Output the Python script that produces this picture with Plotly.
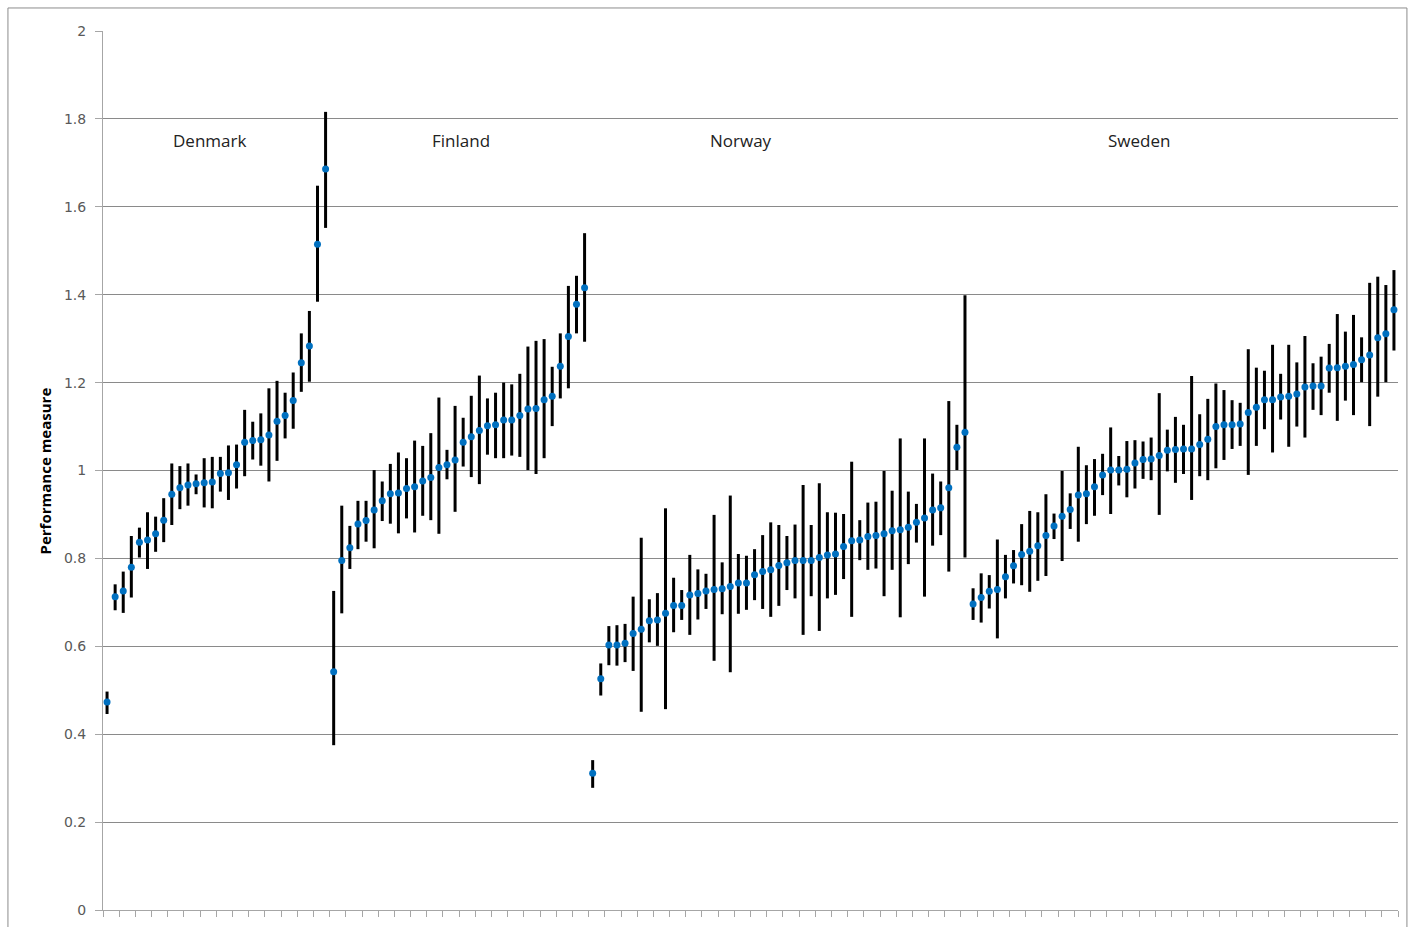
import plotly.graph_objects as go

countries = ["Denmark", "Finland", "Norway", "Sweden"]

denmark_value = [0.473, 0.713, 0.726, 0.780, 0.837, 0.842, 0.856, 0.887, 0.946, 0.961, 0.967, 0.970, 0.972, 0.974,
                 0.993, 0.995, 1.013, 1.064, 1.068, 1.070, 1.081, 1.112, 1.125, 1.159, 1.245, 1.283, 1.515, 1.686]
denmark_low = [0.446, 0.682, 0.676, 0.711, 0.802, 0.776, 0.815, 0.837, 0.876, 0.912, 0.920, 0.946, 0.916, 0.914,
               0.952, 0.933, 0.959, 0.987, 1.025, 1.011, 0.975, 1.022, 1.073, 1.095, 1.179, 1.202, 1.384, 1.552]
denmark_high = [0.497, 0.741, 0.770, 0.851, 0.870, 0.905, 0.895, 0.937, 1.016, 1.010, 1.016, 0.991, 1.028, 1.031,
                1.031, 1.057, 1.059, 1.138, 1.111, 1.130, 1.187, 1.204, 1.177, 1.223, 1.312, 1.363, 1.648, 1.816]

finland_value = [0.542, 0.795, 0.824, 0.878, 0.886, 0.910, 0.931, 0.947, 0.949, 0.959, 0.963, 0.976, 0.984, 1.007,
                 1.013, 1.024, 1.064, 1.077, 1.091, 1.102, 1.104, 1.115, 1.115, 1.125, 1.140, 1.141, 1.161, 1.169,
                 1.237, 1.305, 1.378, 1.416]
finland_low = [0.375, 0.675, 0.776, 0.821, 0.838, 0.823, 0.885, 0.879, 0.857, 0.891, 0.859, 0.897, 0.887, 0.856,
               0.980, 0.906, 1.009, 0.985, 0.969, 1.036, 1.028, 1.028, 1.034, 1.031, 1.001, 0.992, 1.028, 1.101,
               1.164, 1.187, 1.312, 1.293]
finland_high = [0.726, 0.920, 0.874, 0.931, 0.931, 1.001, 0.975, 1.015, 1.041, 1.028, 1.068, 1.056, 1.085, 1.166,
                1.047, 1.147, 1.120, 1.170, 1.216, 1.164, 1.177, 1.200, 1.196, 1.220, 1.282, 1.295, 1.299, 1.236,
                1.312, 1.420, 1.443, 1.540]

norway_value = [0.311, 0.526, 0.603, 0.603, 0.607, 0.629, 0.639, 0.658, 0.660, 0.675, 0.693, 0.693, 0.717, 0.720,
                0.726, 0.729, 0.731, 0.736, 0.744, 0.744, 0.763, 0.770, 0.774, 0.784, 0.790, 0.795, 0.795, 0.795,
                0.802, 0.808, 0.810, 0.827, 0.840, 0.842, 0.850, 0.852, 0.856, 0.863, 0.865, 0.871, 0.882, 0.892,
                0.910, 0.915, 0.961, 1.053, 1.087]
norway_low = [0.278, 0.488, 0.557, 0.556, 0.564, 0.544, 0.451, 0.609, 0.601, 0.457, 0.632, 0.660, 0.626, 0.661,
              0.685, 0.567, 0.673, 0.541, 0.674, 0.683, 0.705, 0.685, 0.667, 0.692, 0.728, 0.709, 0.626, 0.714,
              0.635, 0.709, 0.717, 0.753, 0.667, 0.796, 0.774, 0.777, 0.714, 0.774, 0.666, 0.787, 0.836, 0.713,
              0.829, 0.853, 0.770, 1.001, 0.802]
norway_high = [0.341, 0.561, 0.646, 0.648, 0.651, 0.713, 0.847, 0.707, 0.721, 0.914, 0.756, 0.728, 0.808, 0.775,
               0.765, 0.899, 0.791, 0.943, 0.810, 0.806, 0.821, 0.853, 0.882, 0.876, 0.851, 0.877, 0.967, 0.876,
               0.971, 0.905, 0.904, 0.901, 1.020, 0.887, 0.927, 0.929, 0.999, 0.954, 1.073, 0.952, 0.924, 1.073,
               0.993, 0.975, 1.158, 1.104, 1.399]

sweden_value = [0.696, 0.711, 0.725, 0.729, 0.758, 0.783, 0.809, 0.816, 0.829, 0.852, 0.874, 0.896, 0.911, 0.944,
                0.947, 0.963, 0.990, 1.001, 1.001, 1.003, 1.017, 1.025, 1.026, 1.034, 1.046, 1.048, 1.049, 1.049,
                1.059, 1.071, 1.100, 1.104, 1.104, 1.106, 1.132, 1.144, 1.161, 1.161, 1.167, 1.169, 1.174, 1.190,
                1.192, 1.192, 1.233, 1.234, 1.237, 1.241, 1.252, 1.263, 1.302, 1.311, 1.366]
sweden_low = [0.660, 0.654, 0.686, 0.618, 0.709, 0.743, 0.739, 0.724, 0.749, 0.760, 0.844, 0.794, 0.867, 0.838,
              0.878, 0.897, 0.944, 0.901, 0.966, 0.939, 0.959, 0.981, 0.978, 0.899, 0.998, 0.972, 0.992, 0.933,
              0.987, 0.978, 1.005, 1.024, 1.049, 1.056, 0.990, 1.056, 1.094, 1.041, 1.116, 1.054, 1.100, 1.075,
              1.138, 1.126, 1.177, 1.113, 1.159, 1.126, 1.201, 1.101, 1.168, 1.201, 1.273]
sweden_high = [0.732, 0.766, 0.762, 0.843, 0.808, 0.819, 0.878, 0.908, 0.905, 0.946, 0.902, 0.999, 0.948, 1.054,
               1.012, 1.026, 1.038, 1.098, 1.033, 1.067, 1.069, 1.066, 1.075, 1.176, 1.093, 1.122, 1.104, 1.215,
               1.128, 1.163, 1.198, 1.183, 1.160, 1.154, 1.276, 1.234, 1.227, 1.286, 1.220, 1.286, 1.246, 1.306,
               1.244, 1.259, 1.288, 1.356, 1.316, 1.354, 1.303, 1.427, 1.441, 1.422, 1.456]

y_ticks = [0, 0.2, 0.4, 0.6, 0.8, 1, 1.2, 1.4, 1.6, 1.8, 2]
y_ticktext = ["0", "0.2", "0.4", "0.6", "0.8", "1", "1.2", "1.4", "1.6", "1.8", "2"]
label_x = [0.0826, 0.2764, 0.4927, 0.800]
label_y = 1.75

series = [
    (denmark_value, denmark_low, denmark_high),
    (finland_value, finland_low, finland_high),
    (norway_value, norway_low, norway_high),
    (sweden_value, sweden_low, sweden_high),
]

fig = go.Figure()
n_total = 0
for name, (vals, lows, highs) in zip(countries, series):
    cats = [f"{name} {i + 1}" for i in range(len(vals))]
    n_total += len(cats)
    fig.add_trace(go.Scatter(
        x=cats, y=vals, mode="markers", name=name, showlegend=False,
        marker=dict(color="#0070C0", size=7, line=dict(width=0)),
        error_y=dict(type="data", symmetric=False,
                     array=[h - v for h, v in zip(highs, vals)],
                     arrayminus=[v - l for v, l in zip(vals, lows)],
                     color="black", thickness=3, width=0),
    ))

for name, lx in zip(countries, label_x):
    fig.add_annotation(x=lx, xref="paper", y=label_y, yref="y", text=name, showarrow=False,
                       font=dict(family="Open Sans", size=17, color="#222222"),
                       xanchor="center", yanchor="middle")

fig.add_annotation(x=-0.0448, xref="paper", y=0.5, yref="paper", text="<b>Performance measure</b>",
                   textangle=-90, showarrow=False,
                   font=dict(family="Open Sans", size=15, color="black"),
                   xanchor="center", yanchor="middle")

fig.add_shape(type="rect", xref="paper", yref="paper", x0=-0.0734, x1=1.0069, y0=-0.03, y1=1.0262,
              line=dict(color="#8c8c8c", width=1), fillcolor="rgba(0,0,0,0)", layer="below")

fig.update_layout(
    width=1408, height=927,
    margin=dict(l=103, r=10, t=31, b=17),
    paper_bgcolor="white", plot_bgcolor="white",
    font=dict(family="Open Sans", size=14, color="#595959"),
    xaxis=dict(type="category", range=[-0.5, n_total - 0.5], tickson="boundaries", ticks="outside", ticklen=6,
               tickcolor="#a6a6a6", showticklabels=False, showgrid=False, showline=True,
               linecolor="#a6a6a6", linewidth=1, zeroline=False),
    yaxis=dict(range=[0, 2], tickvals=y_ticks, ticktext=y_ticktext, ticks="outside", ticklen=7,
               tickcolor="#a6a6a6", showline=True, linecolor="#a6a6a6", linewidth=1,
               showgrid=True, gridcolor="#8a8a8a", gridwidth=1, zeroline=False, ticklabelstandoff=6,
               tickfont=dict(family="DejaVu Sans", size=14, color="#595959")),
)

fig.write_html("out.html", config={"displayModeBar": False},
               post_script="document.body.style.margin='0';document.body.style.overflow='hidden';")
